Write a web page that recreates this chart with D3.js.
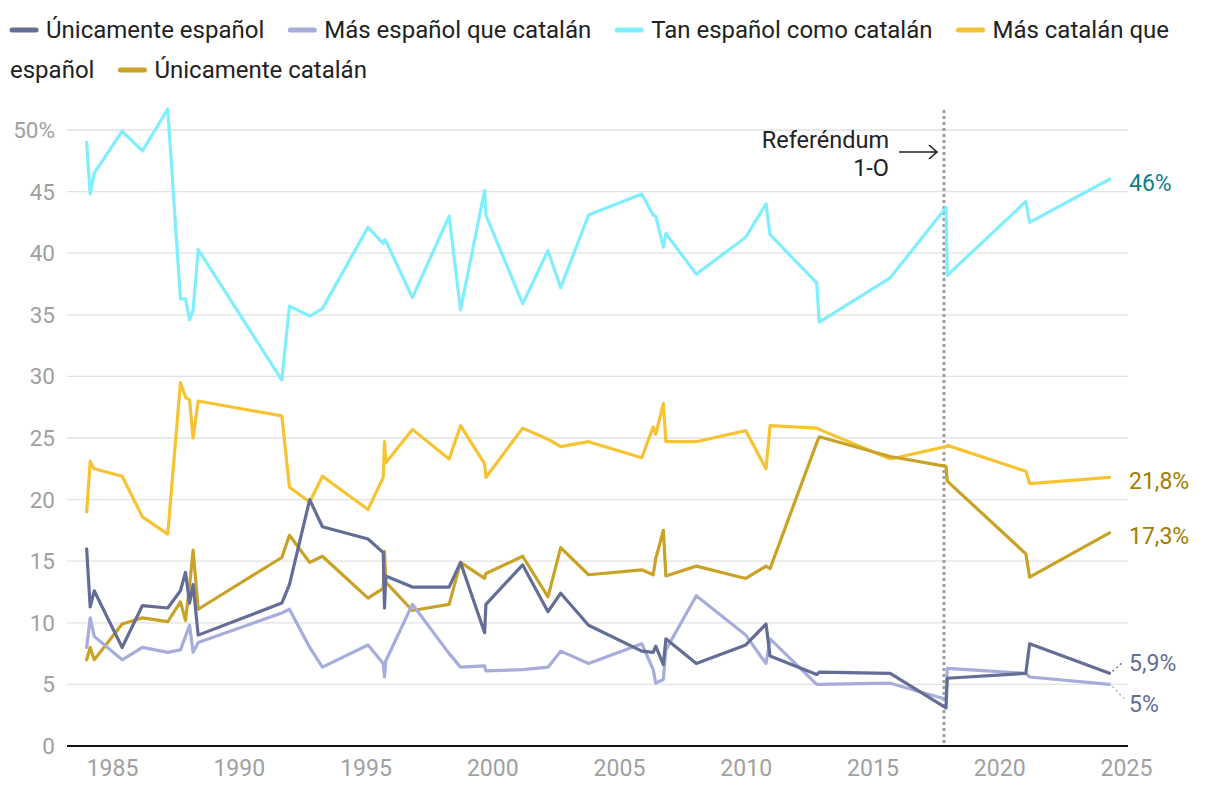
<!DOCTYPE html>
<html>
<head>
<meta charset="utf-8">
<script src="https://cdn.jsdelivr.net/npm/d3@7"></script>
<style>
  html, body { margin: 0; padding: 0; background: #fff; }
  body { width: 1220px; height: 798px; overflow: hidden; font-family: Roboto, "Noto Sans", sans-serif; }
  svg { display: block; font-family: Roboto, "Noto Sans", sans-serif; }
</style>
</head>
<body>
<svg id="chart" width="1220" height="798"></svg>
<script>
// ---- data ----
const years = [1984.0, 1984.14, 1984.3, 1985.4, 1986.2, 1987.2, 1987.7, 1987.9, 1988.06, 1988.2,
  1988.4, 1991.7, 1992.0, 1992.8, 1993.3, 1995.1, 1995.7, 1995.75, 1995.8, 1996.85,
  1998.3, 1998.75, 1999.7, 1999.75, 2001.2, 2002.2, 2002.7, 2003.8, 2005.9, 2006.35,
  2006.45, 2006.75, 2006.85, 2008.05, 2010.0, 2010.8, 2010.96, 2012.8, 2012.9, 2015.7,
  2017.9, 2017.95, 2021.05, 2021.2, 2024.35];

const unicamenteEspanol = [16.0, 11.3, 12.6, 8.0, 11.4, 11.2, 12.6, 14.1, 11.6, 13.1,
  9.0, 11.6, 13.1, 20.0, 17.8, 16.8, 15.7, 11.2, 13.8, 12.9,
  12.9, 14.9, 9.2, 11.5, 14.7, 10.9, 12.4, 9.8, 7.7, 7.6,
  8.1, 6.6, 8.7, 6.7, 8.2, 9.9, 7.3, 5.8, 6.0, 5.9,
  3.1, 5.5, 5.9, 8.3, 5.9];

const masEspanolQueCatalan = [8.0, 10.4, 8.9, 7.0, 8.0, 7.6, 7.8, 8.9, 9.8, 7.6,
  8.4, 10.8, 11.1, 8.0, 6.4, 8.2, 6.7, 5.6, 6.9, 11.5,
  7.5, 6.4, 6.5, 6.1, 6.2, 6.4, 7.7, 6.7, 8.3, 6.2,
  5.1, 5.4, 7.8, 12.2, 9.0, 6.7, 8.7, 5.0, 5.0, 5.1,
  3.8, 6.3, 5.9, 5.6, 5.0];

const tanEspanolComoCatalan = [49.0, 44.8, 46.5, 49.9, 48.3, 51.7, 36.3, 36.3, 34.6, 35.4,
  40.3, 29.7, 35.7, 34.9, 35.5, 42.1, 40.8, 41.1, 41.0, 36.4,
  43.0, 35.4, 45.1, 43.1, 35.9, 40.2, 37.2, 43.1, 44.8, 43.1,
  43.0, 40.5, 41.6, 38.3, 41.3, 44.0, 41.5, 37.6, 34.4, 38.0,
  43.7, 38.2, 44.2, 42.5, 46.0];

const masCatalanQueEspanol = [19.0, 23.1, 22.5, 21.9, 18.6, 17.2, 29.5, 28.3, 28.1, 25.0,
  28.0, 26.8, 21.0, 19.8, 21.9, 19.2, 21.8, 24.7, 23.0, 25.7,
  23.3, 26.0, 22.9, 21.8, 25.8, 24.9, 24.3, 24.7, 23.4, 25.9,
  25.3, 27.8, 24.7, 24.7, 25.6, 22.5, 26.0, 25.8, 25.7, 23.3,
  24.3, 24.4, 22.3, 21.3, 21.8];

const unicamenteCatalan = [7.0, 8.0, 7.0, 9.9, 10.4, 10.1, 11.7, 10.2, 13.0, 15.9,
  11.1, 15.3, 17.1, 14.9, 15.4, 12.0, 12.8, 15.8, 13.3, 11.0,
  11.5, 14.9, 13.6, 14.0, 15.4, 12.1, 16.1, 13.9, 14.3, 13.9,
  15.2, 17.5, 13.8, 14.6, 13.6, 14.6, 14.4, 24.6, 25.1, 23.5,
  22.7, 21.5, 15.6, 13.7, 17.3];

const seriesNames = ["Únicamente español", "Más español que catalán", "Tan español como catalán", "Más catalán que español", "Únicamente catalán"];
const seriesColors = ["#646d96", "#a6addb", "#80eefc", "#f6c432", "#c9a228"];
const endLabels = ["5,9%", "5%", "46%", "21,8%", "17,3%"];
const endLabelColors = ["#646d96", "#646d96", "#0f7f8c", "#a17d00", "#a17d00"];
const xTicks = [1985, 1990, 1995, 2000, 2005, 2010, 2015, 2020, 2025];
const yTicks = [0, 5, 10, 15, 20, 25, 30, 35, 40, 45, 50];
const referendumYear = 2017.82;
const annotationLines = ["Referéndum", "1-O"];

const seriesValues = [unicamenteEspanol, masEspanolQueCatalan, tanEspanolComoCatalan, masCatalanQueEspanol, unicamenteCatalan];

// ---- layout ----
const plotLeft = 67, plotRight = 1128, plotTop = 130, plotBottom = 746;
const x = d3.scaleLinear().domain([1983.225, 2025.08]).range([plotLeft, plotRight]);
const y = d3.scaleLinear().domain([0, 50]).range([plotBottom, plotTop]);

const svg = d3.select("#chart");

// ---- legend (SVG, wraps word by word) ----
const legendG = svg.append("g");
const legendFont = 24;
const measure = legendG.append("text").attr("font-size", legendFont).attr("visibility", "hidden");
const textWidth = s => { measure.text(s); return measure.node().getComputedTextLength(); };
const legendMaxX = 1212, rowH = 40, swW = 28, swGap = 8, itemGap = 24;
let cx = 10, cy = 30;
seriesNames.forEach((name, i) => {
  const words = name.split(" ");
  if (cx + swW + swGap + textWidth(words[0]) > legendMaxX) { cx = 10; cy += rowH; }
  legendG.append("line")
    .attr("x1", cx + 2).attr("x2", cx + swW - 2).attr("y1", cy).attr("y2", cy)
    .attr("stroke", seriesColors[i]).attr("stroke-width", 5).attr("stroke-linecap", "round");
  let segStart = cx + swW + swGap, seg = "";
  const drawSeg = (s, sx, sy) => legendG.append("text").attr("x", sx).attr("y", sy)
    .attr("dominant-baseline", "central").attr("font-size", legendFont).attr("fill", "#222").text(s);
  words.forEach(w => {
    const cand = seg ? seg + " " + w : w;
    if (seg && segStart + textWidth(cand) > legendMaxX) {
      drawSeg(seg, segStart, cy);
      cy += rowH; segStart = 10; seg = w;
    } else seg = cand;
  });
  drawSeg(seg, segStart, cy);
  cx = segStart + textWidth(seg) + itemGap;
});
measure.remove();

// grid
svg.append("g").selectAll("line").data(yTicks.filter(d => d > 0)).join("line")
  .attr("x1", plotLeft).attr("x2", plotRight)
  .attr("y1", d => y(d)).attr("y2", d => y(d))
  .attr("stroke", "#e2e2e2").attr("stroke-width", 1.3);

// y labels
svg.append("g").selectAll("text").data(yTicks).join("text")
  .attr("x", 55).attr("y", d => y(d))
  .attr("text-anchor", "end").attr("dominant-baseline", "central")
  .attr("font-size", 22.5).attr("fill", "#a0a0a0")
  .text(d => d === 50 ? "50%" : d);

// x axis
const xAxis = d3.axisBottom(x).tickValues(xTicks).tickFormat(d3.format("d")).tickSize(0).tickPadding(14);
const xg = svg.append("g").attr("transform", `translate(0,${plotBottom})`).call(xAxis);
xg.select(".domain").remove();
xg.selectAll("text").attr("font-size", 23).attr("fill", "#a0a0a0").attr("font-family", "Roboto, sans-serif");

// referendum line
svg.append("line")
  .attr("x1", x(referendumYear)).attr("x2", x(referendumYear))
  .attr("y1", 110).attr("y2", plotBottom)
  .attr("stroke", "#9e9e9e").attr("stroke-width", 3).attr("stroke-dasharray", "3,3");

// lines
const line = d3.line().x((d, i) => x(years[i])).y(d => y(d));
const drawOrder = [2, 3, 4, 1, 0];
svg.append("g").selectAll("path").data(drawOrder).join("path")
  .attr("d", i => line(seriesValues[i]))
  .attr("fill", "none")
  .attr("stroke", i => seriesColors[i])
  .attr("stroke-width", 3.2)
  .attr("stroke-linejoin", "round")
  .attr("stroke-linecap", "round");

// baseline
svg.append("line").attr("x1", plotLeft).attr("x2", plotRight).attr("y1", plotBottom).attr("y2", plotBottom)
  .attr("stroke", "#111").attr("stroke-width", 2.2);

// end labels
const lastYear = years[years.length - 1];
const labelOffsets = [-14, 16, 0, 0, 0];
endLabels.forEach((t, i) => {
  const v = seriesValues[i][seriesValues[i].length - 1];
  const ly = y(v) + labelOffsets[i];
  svg.append("text").attr("x", 1129).attr("y", ly + 4)
    .attr("dominant-baseline", "central").attr("font-size", 23)
    .attr("fill", endLabelColors[i]).text(t);
  if (labelOffsets[i] !== 0) {
    svg.append("line")
      .attr("x1", x(lastYear) + 3).attr("y1", y(v) + Math.sign(labelOffsets[i]) * 2)
      .attr("x2", 1124).attr("y2", ly - Math.sign(labelOffsets[i]) * 2)
      .attr("stroke", seriesColors[i])
      .attr("stroke-width", 1.5).attr("stroke-dasharray", "2,3");
  }
});

// annotation
annotationLines.forEach((t, i) => {
  svg.append("text").attr("text-anchor", "end").attr("font-size", 23.5).attr("fill", "#222")
    .attr("x", 889).attr("y", 148 + i * 28).text(t);
});
const ax1 = 899, ax2 = x(referendumYear) - 7, ay = 152;
svg.append("path")
  .attr("d", `M${ax1},${ay}H${ax2}M${ax2 - 8},${ay - 7}L${ax2},${ay}L${ax2 - 8},${ay + 7}`)
  .attr("fill", "none").attr("stroke", "#222").attr("stroke-width", 1.6);
</script>
</body>
</html>
